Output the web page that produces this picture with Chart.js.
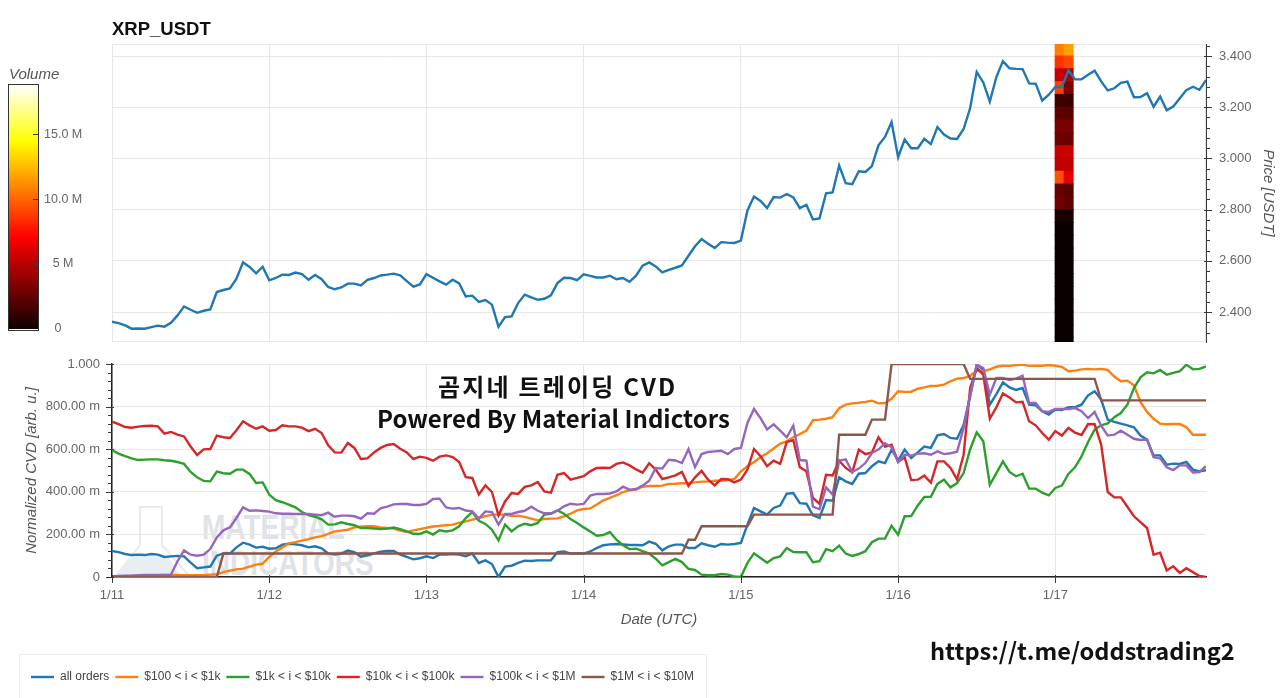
<!DOCTYPE html>
<html>
<head>
<meta charset="utf-8">
<script src="https://cdn.jsdelivr.net/npm/chart.js@4"></script>
<style>
html,body{margin:0;padding:0;background:#fff;overflow:hidden;width:1280px;height:698px}
#stage{position:relative;width:1280px;height:698px;overflow:hidden}
canvas{position:absolute;z-index:1}
.t{position:absolute;white-space:nowrap;z-index:3}
.wm{position:absolute;white-space:nowrap;z-index:0;font:bold 35px 'Liberation Sans',Arial,sans-serif;color:#dfe2e6;transform-origin:left top;transform:scaleX(.8)}
#legendBox{position:absolute;left:19px;top:654px;width:686px;height:60px;border:1px solid #eeeeee;z-index:0}
</style>
</head>
<body>
<div id="stage">
<svg width="90" height="80" style="position:absolute;left:110px;top:502px;z-index:0">
<path d="M5,75 L30,43 L30,5 L52,5 L52,43 L80,75" fill="none" stroke="#e9ebed" stroke-width="2"/>
<path d="M8,73 L22,54 L58,54 L70,73 Z" fill="#e8eef2"/>
</svg>
<div class="wm" style="left:202px;top:507px">MATERIAL</div>
<div class="wm" style="left:202px;top:543px">INDICATORS</div>
<div id="legendBox"></div>
<canvas id="cbar" width="110" height="285" style="left:0;top:60px"></canvas>
<canvas id="price" width="1280" height="350" style="left:0;top:0"></canvas>
<canvas id="cvd" width="1280" height="348" style="left:0;top:350px"></canvas>
<div class="t" style="left:438px;top:368px;font:bold 24px 'Noto Sans CJK KR','Noto Sans',sans-serif;letter-spacing:2.2px;color:#111">곰지네 트레이딩 CVD</div>
<div class="t" style="left:377px;top:400px;font:bold 24px 'Noto Sans CJK KR','Noto Sans',sans-serif;color:#111">Powered By Material Indictors</div>
<div class="t" style="left:930px;top:633px;font:bold 23.6px 'Noto Sans CJK KR','Noto Sans',sans-serif;color:#111">https://t.me/oddstrading2</div>
</div>
<script>
const dayLabels=["1/11","1/12","1/13","1/14","1/15","1/16","1/17"];
const dayHours=[0,24,48,72,96,120,144];
const priceTicks=[2.4,2.6,2.8,3.0,3.2,3.4];
const cvdTicks=[0,0.2,0.4,0.6,0.8,1];
const cvdTickLabels=["0","200.00 m","400.00 m","600.00 m","800.00 m","1.000"];
const volumeTicks=[0,5,10,15];
const volumeTickLabels=["0   ","5 M","10.0 M","15.0 M"];
const seriesNames=["all orders","$100 < i < $1k","$1k < i < $10k","$10k < i < $100k","$100k < i < $1M","$1M < i < $10M"];
const seriesColors=["#1f77b4","#ff7f0e","#2ca02c","#d62728","#9467bd","#8c564b"];

const priceValues=[
2.362,2.357,2.348,2.335,2.336,2.335,2.341,2.347,2.343,2.358,2.387,2.422,2.409,2.397,2.405,2.41,2.478,2.486,2.492,2.53,2.594,2.576,2.551,2.577,
2.524,2.533,2.546,2.545,2.554,2.548,2.526,2.545,2.528,2.498,2.489,2.496,2.511,2.511,2.504,2.526,2.533,2.543,2.546,2.55,2.543,2.521,2.499,2.508,
2.548,2.534,2.52,2.507,2.526,2.512,2.461,2.464,2.44,2.447,2.429,2.343,2.38,2.383,2.435,2.468,2.457,2.448,2.452,2.465,2.513,2.534,2.533,2.525,
2.547,2.541,2.535,2.535,2.542,2.528,2.533,2.518,2.542,2.581,2.594,2.578,2.555,2.565,2.573,2.582,2.62,2.657,2.685,2.667,2.65,2.673,2.671,2.67,
2.679,2.797,2.851,2.834,2.806,2.849,2.847,2.861,2.848,2.806,2.819,2.762,2.766,2.864,2.867,2.972,2.903,2.899,2.95,2.947,2.97,3.051,3.084,3.142,
3.005,3.074,3.04,3.04,3.077,3.056,3.123,3.093,3.078,3.076,3.115,3.197,3.338,3.297,3.222,3.318,3.38,3.352,3.35,3.349,3.293,3.292,3.226,3.249,
3.279,3.279,3.344,3.309,3.309,3.327,3.343,3.301,3.266,3.274,3.295,3.3,3.239,3.24,3.255,3.202,3.242,3.188,3.203,3.235,3.267,3.28,3.268,3.306];

const cvdAll=[
.122,.117,.108,.103,.105,.103,.108,.105,.094,.097,.099,.097,.067,.041,.045,.049,.1,.111,.11,.139,.161,.152,.138,.142,
.133,.135,.152,.156,.153,.149,.139,.144,.135,.111,.105,.11,.124,.117,.095,.102,.111,.119,.122,.122,.105,.094,.083,.088,
.097,.089,.105,.105,.108,.105,.097,.11,.066,.078,.061,0,.049,.053,.066,.077,.075,.078,.078,.078,.117,.12,.11,.111,
.11,.12,.136,.149,.153,.155,.153,.15,.15,.149,.166,.156,.125,.144,.152,.152,.136,.136,.158,.149,.142,.155,.152,.155,
.16,.246,.324,.308,.293,.324,.335,.391,.394,.347,.344,.29,.277,.361,.358,.468,.449,.437,.485,.488,.52,.543,.535,.598,
.548,.598,.559,.585,.612,.606,.665,.671,.653,.649,.715,.848,.997,.973,.809,.859,.914,.89,.878,.887,.809,.806,.778,.762,
.786,.784,.797,.797,.809,.853,.872,.833,.739,.728,.72,.712,.703,.664,.645,.571,.571,.527,.532,.531,.54,.504,.496,.501];

const cvd100=[
.002,.003,.004,.005,.006,.007,.008,.009,.01,.01,.01,.009,.009,.009,.009,.011,.013,.023,.03,.036,.039,.049,.058,.063,
.094,.12,.139,.158,.164,.171,.178,.186,.192,.203,.214,.218,.222,.233,.236,.239,.238,.233,.23,.227,.218,.211,.219,.225,
.231,.237,.24,.243,.246,.254,.261,.269,.277,.286,.293,.293,.293,.286,.288,.282,.274,.266,.272,.274,.275,.285,.297,.313,
.319,.322,.34,.36,.371,.384,.399,.407,.41,.424,.427,.427,.429,.437,.438,.44,.441,.444,.448,.448,.452,.452,.455,.46,
.496,.52,.54,.562,.581,.603,.626,.637,.656,.671,.687,.736,.739,.743,.75,.793,.809,.815,.818,.822,.828,.815,.817,.837,
.872,.869,.87,.884,.89,.897,.898,.903,.919,.931,.934,.944,.969,.966,.975,.987,.992,.991,.995,.997,.991,.992,.992,.995,
.992,.987,.966,.969,.975,.977,.975,.977,.972,.941,.919,.922,.9,.822,.775,.743,.72,.717,.718,.718,.703,.668,.668,.668];

const cvd1k=[
.595,.579,.567,.557,.549,.551,.552,.552,.548,.546,.54,.531,.493,.468,.451,.449,.495,.487,.485,.504,.504,.484,.441,.444,
.387,.361,.351,.34,.327,.305,.291,.283,.271,.246,.247,.257,.249,.243,.23,.23,.228,.225,.227,.232,.225,.214,.203,.202,
.214,.199,.219,.214,.219,.238,.277,.305,.264,.249,.222,.172,.246,.214,.238,.25,.243,.254,.293,.297,.313,.297,.272,.254,
.233,.214,.194,.197,.211,.175,.149,.131,.133,.121,.11,.086,.055,.07,.085,.07,.038,.033,.011,.008,.008,.014,.011,.003,
0,.066,.111,.089,.067,.089,.097,.136,.117,.116,.116,.069,.074,.131,.121,.147,.11,.099,.108,.121,.163,.18,.18,.241,
.199,.285,.286,.336,.376,.377,.437,.457,.421,.441,.488,.6,.679,.637,.433,.488,.543,.493,.473,.485,.415,.415,.396,.383,
.418,.429,.484,.515,.566,.634,.692,.712,.721,.75,.77,.809,.887,.937,.961,.956,.972,.95,.958,.966,.997,.975,.977,.989];

const cvd10k=[
.729,.718,.704,.701,.706,.709,.71,.707,.673,.681,.668,.66,.613,.573,.599,.601,.664,.656,.653,.689,.731,.712,.696,.707,
.687,.69,.712,.707,.707,.701,.685,.696,.676,.618,.585,.584,.629,.606,.554,.557,.585,.606,.62,.624,.602,.585,.554,.565,
.559,.546,.565,.571,.563,.54,.469,.465,.387,.43,.399,.29,.355,.394,.39,.423,.43,.446,.402,.396,.48,.488,.457,.465,
.473,.496,.512,.513,.512,.531,.538,.524,.505,.49,.534,.504,.46,.468,.477,.493,.427,.468,.498,.457,.43,.46,.459,.444,
.457,.504,.601,.567,.52,.546,.531,.634,.642,.515,.496,.371,.344,.48,.477,.546,.512,.491,.598,.577,.585,.656,.612,.621,
.54,.562,.455,.457,.476,.443,.543,.543,.512,.457,.574,.887,.981,.95,.743,.797,.862,.843,.82,.823,.731,.712,.676,.645,
.685,.664,.7,.678,.667,.718,.717,.621,.399,.374,.374,.33,.285,.258,.23,.105,.114,.031,.05,.019,.041,.023,.005,0];

const cvd100k=[
.003,.005,.006,.006,.008,.01,.01,.01,.01,.011,.074,.125,.105,.1,.105,.131,.186,.219,.233,.277,.327,.311,.313,.31,
.307,.299,.297,.297,.296,.296,.296,.293,.29,.302,.283,.288,.288,.285,.274,.299,.297,.322,.33,.341,.343,.343,.338,.338,
.343,.366,.368,.327,.321,.324,.312,.308,.274,.308,.305,.246,.296,.296,.305,.311,.33,.311,.299,.299,.311,.332,.344,.34,
.343,.382,.39,.39,.392,.402,.424,.41,.413,.429,.452,.512,.509,.55,.547,.535,.6,.516,.577,.587,.59,.593,.577,.601,
.606,.723,.789,.746,.693,.717,.687,.656,.71,.549,.546,.33,.318,.421,.387,.546,.552,.493,.509,.535,.582,.598,.628,.609,
.54,.574,.57,.579,.581,.574,.59,.577,.581,.588,.7,.856,.997,.981,.856,.934,.934,.925,.931,.945,.817,.817,.778,.775,
.789,.789,.789,.793,.778,.746,.775,.71,.664,.668,.687,.668,.649,.643,.645,.563,.557,.515,.502,.524,.524,.491,.493,.52];

const cvd1M=[
0,0,0,0,0,0,0,0,0,0,0,0,0,0,0,0,0,.11,.11,.11,.11,.11,.11,.11,
.11,.11,.11,.11,.11,.11,.11,.11,.11,.11,.11,.11,.11,.11,.11,.11,.11,.11,.11,.11,.11,.11,.11,.11,
.11,.11,.11,.11,.11,.11,.11,.11,.11,.11,.11,.11,.11,.11,.11,.11,.11,.11,.11,.11,.11,.11,.11,.11,
.11,.11,.11,.11,.11,.11,.11,.11,.11,.11,.11,.11,.11,.11,.11,.11,.175,.175,.238,.238,.238,.238,.238,.238,
.238,.238,.293,.293,.293,.293,.293,.293,.293,.293,.293,.293,.293,.293,.293,.668,.668,.668,.668,.668,.739,.739,.739,1,
1,1,1,1,1,1,1,1,1,1,1,.93,.93,.93,.93,.93,.93,.93,.93,.93,.93,.93,.93,.93,
.93,.93,.93,.93,.93,.93,.93,.829,.829,.829,.829,.829,.829,.829,.829,.829,.829,.829,.829,.829,.829,.829,.829,.829,.829];

// volume heat-column: lower price of each band, volume (millions) in the two time cells
const heatHours=[144.66,146.03];
const heatPriceLow=[3.4,3.35,3.3,3.25,3.2,3.15,3.1,3.05,3.0,2.95,2.9,2.85,2.8,2.75,2.7,2.65,2.6,2.55,2.5,2.45,2.4,2.35,2.3,2.25];
const heatVolumeA=[10.8,8.6,5.6,9.0,1.8,2.7,3.4,3.2,5.6,5.4,9.5,2.9,3.2,.7,.3,.3,.3,.3,.3,.3,.3,.3,.3,.3];
const heatVolumeB=[11.7,9.2,5.0,3.6,1.6,2.5,3.4,3.0,5.8,5.5,6.5,2.5,2.7,.7,.3,.3,.3,.3,.3,.3,.3,.3,.3,.3];

const hours=priceValues.map((_,i)=>i);
const FONT="'Liberation Sans',Arial,sans-serif";
Chart.defaults.font.family=FONT;
Chart.defaults.animation=false;
const GRID='#e7e7e7', AXIS='#3a3a3a', TICKTXT='#666666', TITLETXT='#555555';

function hot(v){
  const c=x=>Math.round(255*Math.max(0,Math.min(1,x)));
  return `rgb(${c(v/7.2)},${c((v-7.2)/7.2)},${c((v-14.4)/4.4)})`;
}
function xy(vals){return vals.map((v,i)=>({x:hours[i],y:v}));}
function noPad(s){s.paddingTop=0;s.paddingBottom=0;s.paddingLeft=0;s.paddingRight=0;}

const axisMarks={
  id:'axisMarks',
  afterDraw(chart,_,opts){
    const ctx=chart.ctx; ctx.save(); ctx.strokeStyle=AXIS; ctx.lineWidth=1;
    (opts.list||[]).forEach(m=>{
      const s=chart.scales[m.id];
      m.values.forEach(v=>{
        const p=Math.round(s.getPixelForValue(v))+.5;
        ctx.beginPath();
        if(m.side==='left'){ctx.moveTo(s.right+m.inn,p);ctx.lineTo(s.right-m.out,p);}
        if(m.side==='right'){ctx.moveTo(s.left-m.inn,p);ctx.lineTo(s.left+m.out,p);}
        if(m.side==='bottom'){ctx.moveTo(p,s.top-m.inn);ctx.lineTo(p,s.top+m.out);}
        ctx.stroke();
      });
    });
    ctx.restore();
  }
};
const plotFrame={
  id:'plotFrame',
  beforeDatasetsDraw(chart,_,opts){
    if(!opts.color)return;
    const a=chart.chartArea,ctx=chart.ctx;
    ctx.save();ctx.strokeStyle=opts.color;ctx.lineWidth=1;
    ctx.strokeRect(a.left+.5,a.top+.5,a.right-a.left-1,a.bottom-a.top-1);ctx.restore();
  },
  afterDatasetsDraw(chart,_,opts){
    if(!opts.over)return;
    const a=chart.chartArea,ctx=chart.ctx;
    ctx.save();ctx.strokeStyle=opts.over;ctx.lineWidth=1;
    ctx.strokeRect(a.left-.5,a.top-.5,a.right-a.left+1,a.bottom-a.top+1);ctx.restore();
  }
};
Chart.register(axisMarks,plotFrame);

function minorList(lo,hi,step,skip){
  const out=[];
  for(let k=Math.ceil(lo/step-1e-9);k*step<=hi+1e-9;k++){
    const v=+(k*step).toFixed(6);
    if(!skip.some(t=>Math.abs(t-v)<1e-6))out.push(v);
  }
  return out;
}

/* ---------- price panel ---------- */
const heatData=[],heatColors=[];
heatPriceLow.forEach((low,r)=>{
  heatData.push({x:heatHours[0],y:[low,low+.05]});heatColors.push(hot(heatVolumeA[r]));
  heatData.push({x:heatHours[1],y:[low,low+.05]});heatColors.push(hot(heatVolumeB[r]));
});
new Chart(document.getElementById('price'),{
  data:{datasets:[
    {type:'line',label:'price',data:xy(priceValues),borderColor:seriesColors[0],borderWidth:2.4,pointRadius:0,tension:0,order:0},
    {type:'bar',label:'volume',data:heatData,backgroundColor:heatColors,borderWidth:0,barThickness:9,order:1,inflateAmount:0.5}
  ]},
  options:{
    responsive:false,
    layout:{padding:{left:112,top:8,bottom:8,right:0}},
    plugins:{
      legend:{display:false},tooltip:{enabled:false},
      title:{display:true,text:'XRP_USDT',align:'start',color:'#111',font:{size:18.5,weight:'bold',family:FONT},padding:{top:10.5,bottom:3.3}},
      axisMarks:{list:[
        {id:'y',side:'right',values:priceTicks,inn:2,out:6},
        {id:'y',side:'right',values:minorList(2.283,3.447,.04,priceTicks),inn:0,out:4}
      ]},
      plotFrame:{color:GRID}
    },
    scales:{
      x:{type:'linear',min:0,max:167,offset:false,
        afterBuildTicks(s){s.ticks=dayHours.map(v=>({value:v}));},
        afterFit(s){s.height=0;noPad(s);},
        ticks:{display:false},
        grid:{color:GRID,drawTicks:false,offset:false},border:{display:false}},
      y:{type:'linear',position:'right',min:2.283,max:3.447,
        afterBuildTicks(s){s.ticks=priceTicks.map(v=>({value:v}));},
        afterFit(s){s.width=74;noPad(s);},
        ticks:{color:TICKTXT,font:{size:13},padding:13,callback:v=>v.toFixed(3)},
        grid:{color:GRID,drawTicks:false},
        border:{display:true,color:AXIS,width:1},
        title:{display:true,text:'Price [USDT]',color:TITLETXT,font:{size:15,style:'italic'},padding:{top:3,bottom:0}}}
    }
  }
});

/* ---------- CVD panel ---------- */
const cvdSeries=[cvdAll,cvd100,cvd1k,cvd10k,cvd100k,cvd1M];
new Chart(document.getElementById('cvd'),{
  type:'line',
  data:{datasets:cvdSeries.map((vals,i)=>({
    label:seriesNames[i],data:xy(vals),borderColor:seriesColors[i],backgroundColor:seriesColors[i],
    borderWidth:2.4,pointRadius:0,tension:0,order:5-i}))},
  options:{
    responsive:false,
    layout:{padding:{left:25,right:74,top:14,bottom:5}},
    plugins:{
      tooltip:{enabled:false},
      title:{display:false},
      legend:{position:'bottom',align:'start',
        onClick:null,
        labels:{usePointStyle:true,pointStyle:'line',pointStyleWidth:23,boxHeight:12,padding:6,color:'#444',font:{size:12},
          sort:(a,b)=>a.datasetIndex-b.datasetIndex}},
      axisMarks:{list:[
        {id:'y',side:'left',values:cvdTicks,inn:2,out:6},
        {id:'y',side:'left',values:minorList(0,1,.04,cvdTicks),inn:0,out:4},
        {id:'x',side:'bottom',values:dayHours,inn:2,out:6}
      ]},
      plotFrame:{}
    },
    scales:{
      x:{type:'linear',min:0,max:167,offset:false,
        afterBuildTicks(s){s.ticks=dayHours.map(v=>({value:v}));},
        afterFit(s){s.height=88;noPad(s);},
        ticks:{color:TICKTXT,font:{size:13},padding:11,maxRotation:0,autoSkip:false,
          callback:v=>dayLabels[dayHours.indexOf(v)]},
        grid:{color:GRID,drawTicks:false},
        border:{display:true,color:'#222',width:1.5},
        title:{display:true,text:'Date (UTC)',color:TITLETXT,font:{size:15,style:'italic'},padding:{top:0,bottom:36}}},
      y:{type:'linear',min:0,max:1,
        afterBuildTicks(s){s.ticks=cvdTicks.map(v=>({value:v}));},
        afterFit(s){s.width=87;noPad(s);},
        ticks:{color:TICKTXT,font:{size:13},padding:12,callback:v=>cvdTickLabels[cvdTicks.indexOf(v)]},
        grid:{color:GRID,drawTicks:false},
        border:{display:true,color:'#222',width:1.5},
        title:{display:true,text:'Normalized CVD [arb. u.]',color:TITLETXT,font:{size:15,style:'italic'},padding:{top:-2,bottom:0}}}
    }
  }
});

/* ---------- volume colour bar ---------- */
const colorStops=[[0,'#0c0000'],[.38,'#ff0000'],[.77,'#ffff00'],[1,'#ffffff']];
new Chart(document.getElementById('cbar'),{
  type:'bar',
  data:{labels:['Volume'],datasets:[{data:[[0,18.8]],borderWidth:0,barPercentage:1,categoryPercentage:1,
    backgroundColor(c){
      const a=c.chart.chartArea; if(!a)return '#000';
      const g=c.chart.ctx.createLinearGradient(0,a.bottom,0,a.top);
      colorStops.forEach(s=>g.addColorStop(s[0],s[1]));
      return g;
    }}]},
  options:{
    responsive:false,
    layout:{padding:{left:9,top:2,bottom:15,right:0}},
    plugins:{
      legend:{display:false},tooltip:{enabled:false},
      title:{display:true,text:'Volume',align:'start',color:TITLETXT,font:{size:15,style:'italic',weight:'normal'},padding:{top:3.5,bottom:1.5}},
      plotFrame:{over:'#333333'},
      axisMarks:{list:[{id:'y',side:'right',values:[5,10,15],inn:5,out:0}]}
    },
    scales:{
      x:{display:false},
      y:{position:'right',min:-.1,max:18.8,
        afterBuildTicks(s){s.ticks=volumeTicks.map(v=>({value:v}));},
        afterFit(s){s.width=72;noPad(s);},
        ticks:{color:TICKTXT,font:{size:12.5},padding:6,crossAlign:'center',
          callback:v=>volumeTickLabels[volumeTicks.indexOf(v)]},
        grid:{display:false,drawTicks:false},border:{display:false}}
    }
  }
});
</script>
</body>
</html>
